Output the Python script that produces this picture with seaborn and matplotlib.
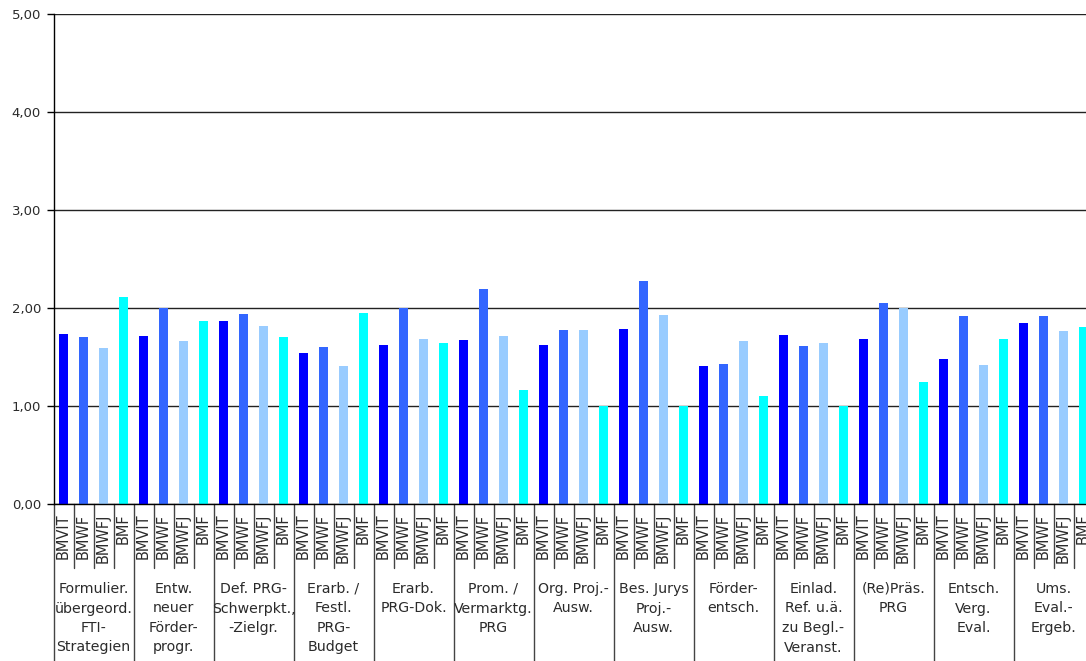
import pandas as pd
import seaborn as sns
import matplotlib.pyplot as plt
from matplotlib.ticker import FuncFormatter

# data
groups = ["Formulier.\nübergeord.\nFTI-\nStrategien",
          "Entw.\nneuer\nFörder-\nprogr.",
          "Def. PRG-\nSchwerpkt.,\n-Zielgr.",
          "Erarb. /\nFestl.\nPRG-\nBudget",
          "Erarb.\nPRG-Dok.",
          "Prom. /\nVermarktg.\nPRG",
          "Org. Proj.-\nAusw.",
          "Bes. Jurys\nProj.-\nAusw.",
          "Förder-\nentsch.",
          "Einlad.\nRef. u.ä.\nzu Begl.-\nVeranst.",
          "(Re)Präs.\nPRG",
          "Entsch.\nVerg.\nEval.",
          "Ums.\nEval.-\nErgeb."]
ministries = ["BMVIT", "BMWF", "BMWFJ", "BMF"]
bmvit = [1.73, 1.71, 1.87, 1.54, 1.62, 1.67, 1.62, 1.79, 1.41, 1.72, 1.68, 1.48, 1.85]
bmwf = [1.70, 2.00, 1.94, 1.60, 2.00, 2.19, 1.78, 2.28, 1.43, 1.61, 2.05, 1.92, 1.92]
bmwfj = [1.59, 1.66, 1.82, 1.41, 1.68, 1.71, 1.78, 1.93, 1.66, 1.64, 2.00, 1.42, 1.77]
bmf = [2.11, 1.87, 1.70, 1.95, 1.64, 1.16, 1.00, 1.00, 1.10, 1.00, 1.25, 1.68, 1.81]
colors = ["#0000FF", "#3366FF", "#99CCFF", "#00FFFF"]

series = {"BMVIT": bmvit, "BMWF": bmwf, "BMWFJ": bmwfj, "BMF": bmf}
rows = []
for g in range(len(groups)):
    for m in ministries:
        rows.append({"slot": f"{g:02d}_{m}", "ministry": m, "value": series[m][g]})
df = pd.DataFrame(rows)
order = list(df["slot"])

sns.set_style("white")
plt.rcParams['font.family'] = ['DejaVu Sans']
txt = "#2b2b2b"

fig = plt.figure(figsize=(10.86, 6.61), dpi=100)
ax = fig.add_axes([53.5 / 1086, 157 / 661, 1040 / 1086, 490 / 661])

sns.barplot(data=df, x="slot", y="value", hue="ministry", order=order,
            hue_order=ministries, palette=colors, dodge=False, width=0.45,
            saturation=1, linewidth=0, legend=False, ax=ax)

n = len(order)
ax.set_xlim(-0.5, n - 0.5)
ax.set_ylim(0, 5)
ax.set_yticks([0, 1, 2, 3, 4, 5])
ax.yaxis.set_major_formatter(FuncFormatter(lambda v, p: f"{v:.2f}".replace(".", ",")))
ax.yaxis.grid(True, color="#222222", linewidth=1, linestyle="-")
ax.set_axisbelow(True)
ax.tick_params(axis="y", left=True, length=5, width=1, color="black",
               labelsize=9.5, labelcolor=txt, pad=4)

ax.set_xticks(range(n))
ax.set_xticklabels([m for _ in groups for m in ministries], rotation=90,
                   va="top", ha="center", fontsize=10.5, color=txt)
ax.tick_params(axis="x", length=0, pad=7)
ax.set_xlabel("")
ax.set_ylabel("")

for s in ["left", "bottom"]:
    ax.spines[s].set_color("black")
    ax.spines[s].set_linewidth(1)
for s in ["right", "top"]:
    ax.spines[s].set_visible(False)

# separators below the axis
tr = ax.get_xaxis_transform()
for k in range(n + 1):
    x = k - 0.5
    low = -157 / 490 if k % 4 == 0 else -64 / 490
    ax.plot([x, x], [0, low], transform=tr, color="#444444", linewidth=1,
            clip_on=False)

for g, label in enumerate(groups):
    ax.text(g * 4 + 1.5, -78 / 490, label, transform=tr, ha="center",
            va="top", fontsize=10.2, color=txt, linespacing=1.5)

plt.savefig("out.png", dpi=100)
